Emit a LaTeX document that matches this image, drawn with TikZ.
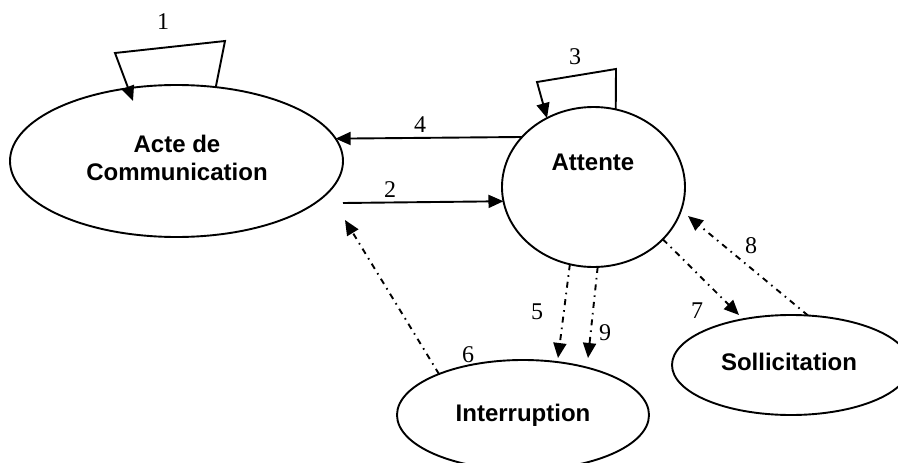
\documentclass[tikz,border=0pt]{standalone}
\usepackage{fontspec}
\setmainfont{Liberation Serif}
\setsansfont{Liberation Sans}
\usetikzlibrary{arrows.meta,shapes.geometric}
\begin{document}
\begin{tikzpicture}[x=1pt,y=-1pt,
  ell/.style={draw, ellipse, line width=1.9pt, inner sep=0pt, outer sep=0pt},
  lbl/.style={font=\sffamily\bfseries\fontsize{24}{28}\selectfont, align=center, inner sep=0pt},
  num/.style={font=\fontsize{24}{28}\selectfont, inner sep=0pt},
  arr/.style={line width=1.9pt, -{Triangle[length=15pt,width=13pt]}},
  dd/.style={arr, dash pattern=on 6pt off 5pt on 1.6pt off 5pt}]
\clip (0,0) rectangle (898,463);
\useasboundingbox (0,0) rectangle (898,463);

% ellipses
\node[ell, minimum width=333pt, minimum height=152pt] (acte) at (176.5,161) {};
\node[ell, minimum width=183pt, minimum height=160pt] (att) at (593.5,187) {};
\node[ell, minimum width=252pt, minimum height=110pt] (inter) at (523,415) {};
\node[ell, minimum width=238pt, minimum height=100pt] (sol) at (791,365) {};

% texts
\node[lbl] (acteT) at (177,158) {Acte de\\Communication};
\node[lbl] (attT) at (593,162) {Attente};
\node[lbl] (interT) at (523,415) {Interruption};
\node[lbl] (solT) at (789,362) {Sollicitation};

% free ends / corners
\coordinate (c2) at (343,203);
\coordinate (l1a) at (225,41);
\coordinate (l1b) at (115,53);
\coordinate (l1c) at (133,101);
\coordinate (l3a) at (616,69);
\coordinate (l3b) at (537,82);
\coordinate (c5) at (558,358);
\coordinate (c9) at (588,358);
\coordinate (c6) at (345,220);
\coordinate (c7) at (739,315);
\coordinate (c8) at (688,216);

% solid connectors
\draw[arr] (acte.62.2) -- (l1a) -- (l1b) -- (l1c);
\draw[arr] (att.74) -- (l3a) -- (l3b) -- (att.124.5);
\draw[arr] (att.145.8) -- (acte.8.5);
\draw[arr] (c2) -- (att.189.9);

% dash-dot connectors
\draw[dd] (att.253.4) -- (c5);
\draw[dd] (att.273.2) -- (c9);
\draw[dd] (inter.154.5) -- (c6);
\draw[dd] (att.-37.3) -- (c7);
\draw[dd] (sol.71.2) -- (c8);

% numbers
\node[num] (n1) at (163,22) {1};
\node[num] (n2) at (390,190) {2};
\node[num] (n3) at (575,57) {3};
\node[num] (n4) at (420,125) {4};
\node[num] (n5) at (537,312) {5};
\node[num] (n6) at (468,355) {6};
\node[num] (n7) at (697,311) {7};
\node[num] (n8) at (751,246) {8};
\node[num] (n9) at (605,333) {9};
\end{tikzpicture}
\end{document}
